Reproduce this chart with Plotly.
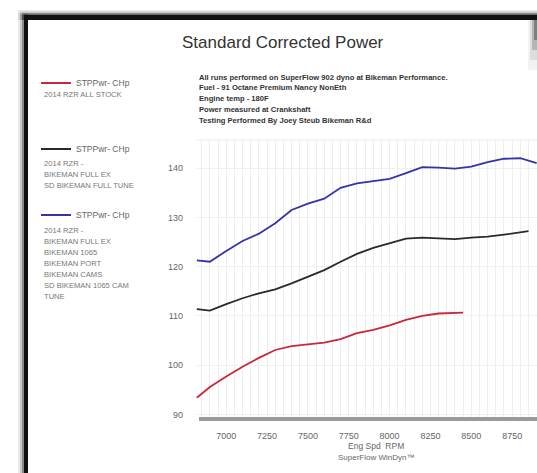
import plotly.graph_objects as go

# ---- data ----
rpm_blue = [6820, 6900, 7000, 7100, 7200, 7300, 7400, 7500, 7600, 7700, 7800,
            7900, 8000, 8100, 8200, 8300, 8400, 8500, 8600, 8700, 8800, 8900]
hp_blue = [121.3, 121.0, 123.2, 125.2, 126.7, 128.8, 131.5, 132.8, 133.8, 136.0, 136.9,
           137.3, 137.8, 139.0, 140.2, 140.1, 139.9, 140.3, 141.2, 141.9, 142.0, 141.0]

rpm_black = [6820, 6900, 7000, 7100, 7200, 7300, 7400, 7500, 7600, 7700, 7800,
             7900, 8000, 8100, 8200, 8300, 8400, 8500, 8600, 8700, 8800, 8850]
hp_black = [111.4, 111.1, 112.4, 113.6, 114.6, 115.4, 116.6, 118.0, 119.3, 121.0, 122.6,
            123.8, 124.8, 125.7, 125.9, 125.7, 125.6, 125.9, 126.1, 126.5, 127.0, 127.2]

rpm_red = [6820, 6900, 7000, 7100, 7200, 7300, 7400, 7500, 7600, 7700, 7800,
           7900, 8000, 8100, 8200, 8300, 8400, 8450]
hp_red = [93.4, 95.6, 97.7, 99.7, 101.5, 103.1, 103.9, 104.2, 104.6, 105.3, 106.5,
          107.2, 108.1, 109.2, 110.0, 110.5, 110.6, 110.7]

x_ticks = [7000, 7250, 7500, 7750, 8000, 8250, 8500, 8750]
y_ticks = [90, 100, 110, 120, 130, 140]

series_name = "STPPwr- CHp"
desc_red = ["2014 RZR ALL STOCK"]
desc_black = ["2014 RZR -", "BIKEMAN FULL EX", "SD BIKEMAN FULL TUNE"]
desc_blue = ["2014 RZR -", "BIKEMAN FULL EX", "BIKEMAN 1065", "BIKEMAN PORT",
             "BIKEMAN CAMS", "SD BIKEMAN 1065 CAM", "TUNE"]
notes = ["All runs performed on SuperFlow 902 dyno at Bikeman Performance.",
         "Fuel - 91 Octane Premium Nancy NonEth",
         "Engine temp - 180F",
         "Power measured at Crankshaft",
         "Testing Performed By Joey Steub Bikeman R&d"]

# ---- layout geometry ----
W, H = 537, 473
L, R, T, B = 196, 0, 140, 54
PW, PH = W - L - R, H - T - B


def px(x):
    return (x - L) / PW


def py(y):
    return (H - B - y) / PH


FONT = "Arial, Liberation Sans, sans-serif"
RED, BLACK, BLUE = "#c8283a", "#2a2a2a", "#3434a8"

fig = go.Figure()
fig.add_trace(go.Scatter(x=rpm_red, y=hp_red, mode="lines", name=series_name,
                         line=dict(color=RED, width=1.8), legend="legend"))
fig.add_trace(go.Scatter(x=rpm_black, y=hp_black, mode="lines", name=series_name,
                         line=dict(color=BLACK, width=1.8), legend="legend2"))
fig.add_trace(go.Scatter(x=rpm_blue, y=hp_blue, mode="lines", name=series_name,
                         line=dict(color=BLUE, width=1.8), legend="legend3"))

leg_common = dict(font=dict(family=FONT, size=8.5, color="#666"), bgcolor="rgba(0,0,0,0)",
                  xanchor="left", yanchor="middle", itemwidth=30, tracegroupgap=0)

annotations = []
annotations.append(dict(text="Standard Corrected Power", x=px(283), y=py(43), xref="paper", yref="paper",
                        showarrow=False, font=dict(family=FONT, size=17, color="#333"),
                        xanchor="center", yanchor="middle"))
for i, t in enumerate(notes):
    annotations.append(dict(text="<b>" + t + "</b>", x=px(197), y=py(77 + i * 10.8), xref="paper", yref="paper",
                            showarrow=False, font=dict(family=FONT, size=7.6, color="#333"),
                            xanchor="left", yanchor="middle"))
for lines, y0 in ((desc_red, 94), (desc_black, 163), (desc_blue, 230)):
    for i, t in enumerate(lines):
        annotations.append(dict(text=t, x=px(42), y=py(y0 + i * 11.1), xref="paper", yref="paper",
                                showarrow=False, font=dict(family=FONT, size=7.6, color="#777"),
                                xanchor="left", yanchor="middle"))
annotations.append(dict(text="Eng Spd  RPM", x=px(376), y=py(446), xref="paper", yref="paper", showarrow=False,
                        font=dict(family=FONT, size=8.5, color="#666"), xanchor="center", yanchor="middle"))
annotations.append(dict(text="SuperFlow WinDyn™", x=px(376), y=py(457), xref="paper", yref="paper", showarrow=False,
                        font=dict(family=FONT, size=8, color="#666"), xanchor="center", yanchor="middle"))

shapes = []
for i, op in enumerate([0.08, 0.15, 0.3, 0.5]):
    shapes.append(dict(type="rect", xref="paper", yref="paper", layer="above",
                       x0=px(18 + i * 2), x1=px(28), y0=py(H + 5), y1=py(13 + i), line_width=0,
                       fillcolor="rgba(0,0,0,%s)" % op))
    shapes.append(dict(type="rect", xref="paper", yref="paper", layer="above",
                       x0=px(18 + i * 2), x1=px(W + 5), y0=py(20), y1=py(10 + i * 1.5), line_width=0,
                       fillcolor="rgba(0,0,0,%s)" % op))
    # soft shadow at the right edge near the top
    shapes.append(dict(type="rect", xref="paper", yref="paper", layer="above",
                       x0=px(528 + i * 2), x1=px(W + 5), y0=py(70 - i * 10), y1=py(15), line_width=0,
                       fillcolor="rgba(0,0,0,%s)" % (op * 0.6)))
shapes.append(dict(type="rect", xref="paper", yref="paper", layer="above",
                   x0=px(24), x1=px(28), y0=py(H + 5), y1=py(15), line_width=0, fillcolor="#111"))
shapes.append(dict(type="rect", xref="paper", yref="paper", layer="above",
                   x0=px(24), x1=px(W + 5), y0=py(20), y1=py(15), line_width=0, fillcolor="#111"))
shapes.append(dict(type="line", xref="paper", yref="paper", x0=0, x1=1, y0=1, y1=1,
                   line=dict(color="#ececec", width=1), layer="below"))
shapes.append(dict(type="line", xref="paper", yref="paper", x0=px(199), x1=1.0, y0=0, y1=0,
                   line=dict(color="#9a9a9a", width=4), layer="above"))

fig.update_layout(
    width=W, height=H,
    margin=dict(l=L, r=R, t=T, b=B, pad=0),
    paper_bgcolor="white", plot_bgcolor="white",
    font=dict(family=FONT, color="#555"),
    showlegend=True,
    legend=dict(x=px(36), y=py(83), **leg_common),
    legend2=dict(x=px(36), y=py(149), **leg_common),
    legend3=dict(x=px(36), y=py(215), **leg_common),
    annotations=annotations,
    shapes=shapes,
    xaxis=dict(range=[6815, 8902], tickvals=x_ticks, ticktext=[str(v) for v in x_ticks],
               showgrid=True, gridcolor="#eeeeee", gridwidth=1,
               minor=dict(dtick=50, showgrid=True, gridcolor="#eeeeee", gridwidth=1),
               showline=False, zeroline=False, ticks="", ticklabelstandoff=10,
               tickfont=dict(family=FONT, size=9, color="#666")),
    yaxis=dict(range=[89.1, 145.7], tickvals=y_ticks, ticktext=[str(v) for v in y_ticks],
               showgrid=True, gridcolor="#f0f0f0", zeroline=False, showline=False, ticks="",
               ticklabelstandoff=12, tickfont=dict(family=FONT, size=9, color="#666")),
)

fig.write_html("out.html", config={"displayModeBar": False},
               post_script="document.body.style.margin='0';")
